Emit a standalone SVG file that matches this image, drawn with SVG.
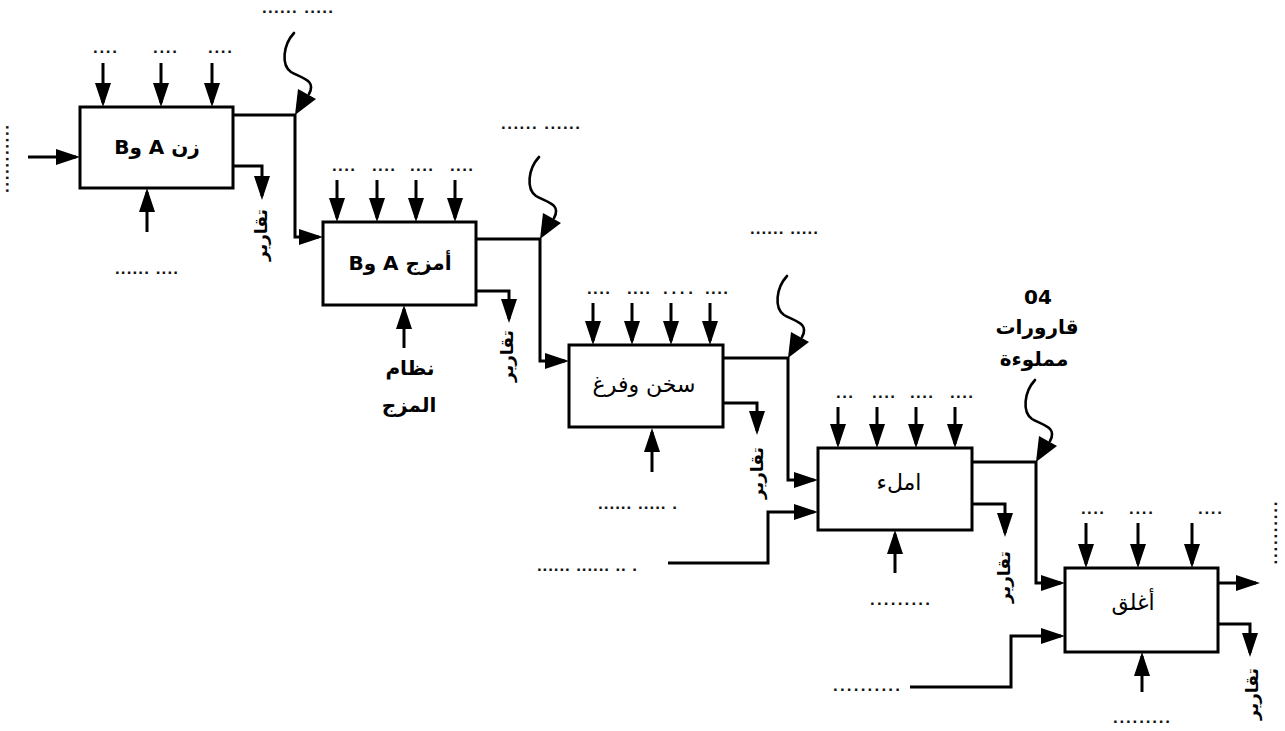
<svg xmlns="http://www.w3.org/2000/svg" width="1285" height="731" viewBox="0 0 1285 731">
<style>
.box{fill:#fff;stroke:#000;stroke-width:3}
.arr{fill:none;stroke:#000;stroke-width:3;marker-end:url(#ah)}
.wv{fill:none;stroke:#000;stroke-width:2.6;stroke-linecap:round}
.dot{font-family:"Liberation Sans",Arial,sans-serif;font-weight:bold;font-size:17px;fill:#111}
.lbl{font-family:"DejaVu Sans","Liberation Sans",sans-serif;font-weight:bold;font-size:20px;fill:#000}
.lblr{font-family:"DejaVu Sans","Liberation Sans",sans-serif;font-size:22px;fill:#000}
.rep{font-family:"DejaVu Sans","Liberation Sans",sans-serif;font-weight:bold;font-size:17px;fill:#000}
</style>
<defs>
<marker id="ah" markerUnits="userSpaceOnUse" markerWidth="24" markerHeight="16" refX="20" refY="8" orient="auto">
<path d="M0,0 L24,8 L0,16 z" fill="#000"/>
</marker>
<g id="wave">
<path class="wv" d="M-1,-82 C-12,-70 -14,-50 -4,-43 C6,-37 22,-35 14,-21"/>
<polygon points="3,-26 21,-16 0,0" fill="#000"/>
</g>
</defs>
<rect width="1285" height="731" fill="#fff"/>

<g id="connectors">
<path class="arr" d="M103,63 V103"/>
<path class="arr" d="M161,63 V103"/>
<path class="arr" d="M212,63 V103"/>
<path class="arr" d="M28,157 H76"/>
<path class="arr" d="M147,232 V192"/>
<path class="arr" d="M233,115 H295 V237 H319"/>
<path class="arr" d="M231,166 H262 V196"/>
<use href="#wave" x="295" y="115"/>
<path class="arr" d="M337,180 V218"/>
<path class="arr" d="M377,180 V218"/>
<path class="arr" d="M416,180 V218"/>
<path class="arr" d="M455,180 V218"/>
<path class="arr" d="M476,239 H540 V361 H565"/>
<path class="arr" d="M476,291 H509 V319"/>
<path class="arr" d="M404,348 V309"/>
<use href="#wave" x="540" y="239"/>
<path class="arr" d="M593,303 V341"/>
<path class="arr" d="M632,303 V341"/>
<path class="arr" d="M671,303 V341"/>
<path class="arr" d="M710,303 V341"/>
<path class="arr" d="M723,358 H788 V480 H814"/>
<path class="arr" d="M723,403 H757 V431"/>
<path class="arr" d="M652,472 V432"/>
<use href="#wave" x="788" y="358"/>
<path class="arr" d="M838,407 V444"/>
<path class="arr" d="M877,407 V444"/>
<path class="arr" d="M916,407 V444"/>
<path class="arr" d="M955,407 V444"/>
<path class="arr" d="M668,563 H768 V512 H814"/>
<path class="arr" d="M972,462 H1036 V583 H1061"/>
<path class="arr" d="M972,504 H1005 V533"/>
<path class="arr" d="M895,573 V534"/>
<use href="#wave" x="1036" y="462"/>
<path class="arr" d="M1086,523 V564"/>
<path class="arr" d="M1138,523 V564"/>
<path class="arr" d="M1192,523 V564"/>
<path class="arr" d="M910,687 H1011 V636 H1061"/>
<path class="arr" d="M1218,583 H1256"/>
<path class="arr" d="M1218,624 H1250 V653"/>
<path class="arr" d="M1142,692 V656"/>
</g>

<g id="node1">
<rect class="box" x="80" y="107" width="153" height="81"/>
<text class="lbl" x="157" y="154" text-anchor="middle" direction="rtl">زن A وB</text>
</g>
<g id="node2">
<rect class="box" x="323" y="222" width="153" height="83"/>
<text class="lbl" x="400" y="270" text-anchor="middle" direction="rtl" font-size="21">أمزج A وB</text>
</g>
<g id="node3">
<rect class="box" x="569" y="345" width="154" height="82"/>
<text class="lblr" x="644" y="392" text-anchor="middle" direction="rtl" font-size="23">سخن وفرغ</text>
</g>
<g id="node4">
<rect class="box" x="818" y="448" width="154" height="82"/>
<text class="lblr" x="899" y="490" text-anchor="middle" direction="rtl">املء</text>
</g>
<g id="node5">
<rect class="box" x="1065" y="568" width="153" height="84"/>
<text class="lblr" x="1133" y="610" text-anchor="middle" direction="rtl" font-size="23">أغلق</text>
</g>

<g id="labels">
<text class="rep" transform="translate(261,235) rotate(-90)" text-anchor="middle" dominant-baseline="central">تقارير</text>
<text class="rep" transform="translate(507,356) rotate(-90)" text-anchor="middle" dominant-baseline="central">تقارير</text>
<text class="rep" transform="translate(757,473) rotate(-90)" text-anchor="middle" dominant-baseline="central">تقارير</text>
<text class="rep" transform="translate(1004,577) rotate(-90)" text-anchor="middle" dominant-baseline="central">تقارير</text>
<text class="rep" transform="translate(1252,694) rotate(-90)" text-anchor="middle" dominant-baseline="central">تقارير</text>
<text class="lbl" x="410" y="375" text-anchor="middle" direction="rtl">نظام</text>
<text class="lbl" x="409" y="412" text-anchor="middle" direction="rtl">المزج</text>
<text class="lbl" x="1038" y="304" text-anchor="middle" font-family="Liberation Sans, Arial, sans-serif" font-size="21">04</text>
<text class="lbl" x="1037" y="334" text-anchor="middle" direction="rtl" font-size="18">قارورات</text>
<text class="lbl" x="1034" y="366" text-anchor="middle" direction="rtl" font-size="18">مملوءة</text>
</g>

<g id="dots">
<text class="dot" x="93" y="53" textLength="24" lengthAdjust="spacing">....</text>
<text class="dot" x="153" y="53" textLength="24" lengthAdjust="spacing">....</text>
<text class="dot" x="208" y="53" textLength="24" lengthAdjust="spacing">....</text>
<text class="dot" x="262" y="13" font-size="12" textLength="71" lengthAdjust="spacing">...... .....</text>
<text class="dot" x="115" y="274" textLength="63" lengthAdjust="spacing">...... ....</text>
<text class="dot" transform="translate(6,159) rotate(90)" text-anchor="middle" textLength="68" lengthAdjust="spacing">...........</text>
<text class="dot" x="332" y="171" textLength="23" lengthAdjust="spacing">....</text>
<text class="dot" x="372" y="171" textLength="23" lengthAdjust="spacing">....</text>
<text class="dot" x="410" y="171" textLength="23" lengthAdjust="spacing">....</text>
<text class="dot" x="450" y="171" textLength="23" lengthAdjust="spacing">....</text>
<text class="dot" x="501" y="129" textLength="79" lengthAdjust="spacing">...... ......</text>
<text class="dot" x="587" y="294" textLength="23" lengthAdjust="spacing">....</text>
<text class="dot" x="627" y="294" textLength="23" lengthAdjust="spacing">....</text>
<text class="dot" x="663" y="294" textLength="30" lengthAdjust="spacing">. . . .</text>
<text class="dot" x="705" y="294" textLength="23" lengthAdjust="spacing">....</text>
<text class="dot" x="750" y="234" textLength="68" lengthAdjust="spacing">...... .....</text>
<text class="dot" x="598" y="509" textLength="79" lengthAdjust="spacing">...... ..... .</text>
<text class="dot" x="836" y="398" textLength="17" lengthAdjust="spacing">...</text>
<text class="dot" x="872" y="398" textLength="23" lengthAdjust="spacing">....</text>
<text class="dot" x="910" y="398" textLength="23" lengthAdjust="spacing">....</text>
<text class="dot" x="950" y="398" textLength="23" lengthAdjust="spacing">....</text>
<text class="dot" x="537" y="571" textLength="100" lengthAdjust="spacing">...... ...... .. .</text>
<text class="dot" x="870" y="605" textLength="60" lengthAdjust="spacing">.........</text>
<text class="dot" x="1081" y="514" textLength="23" lengthAdjust="spacing">....</text>
<text class="dot" x="1129" y="514" textLength="24" lengthAdjust="spacing">....</text>
<text class="dot" x="1198" y="514" textLength="24" lengthAdjust="spacing">....</text>
<text class="dot" x="833" y="691" textLength="67" lengthAdjust="spacing">..........</text>
<text class="dot" x="1113" y="723" textLength="57" lengthAdjust="spacing">.........</text>
<text class="dot" transform="translate(1277,533) rotate(-90)" text-anchor="middle" textLength="63" lengthAdjust="spacing">..........</text>
</g>
</svg>
